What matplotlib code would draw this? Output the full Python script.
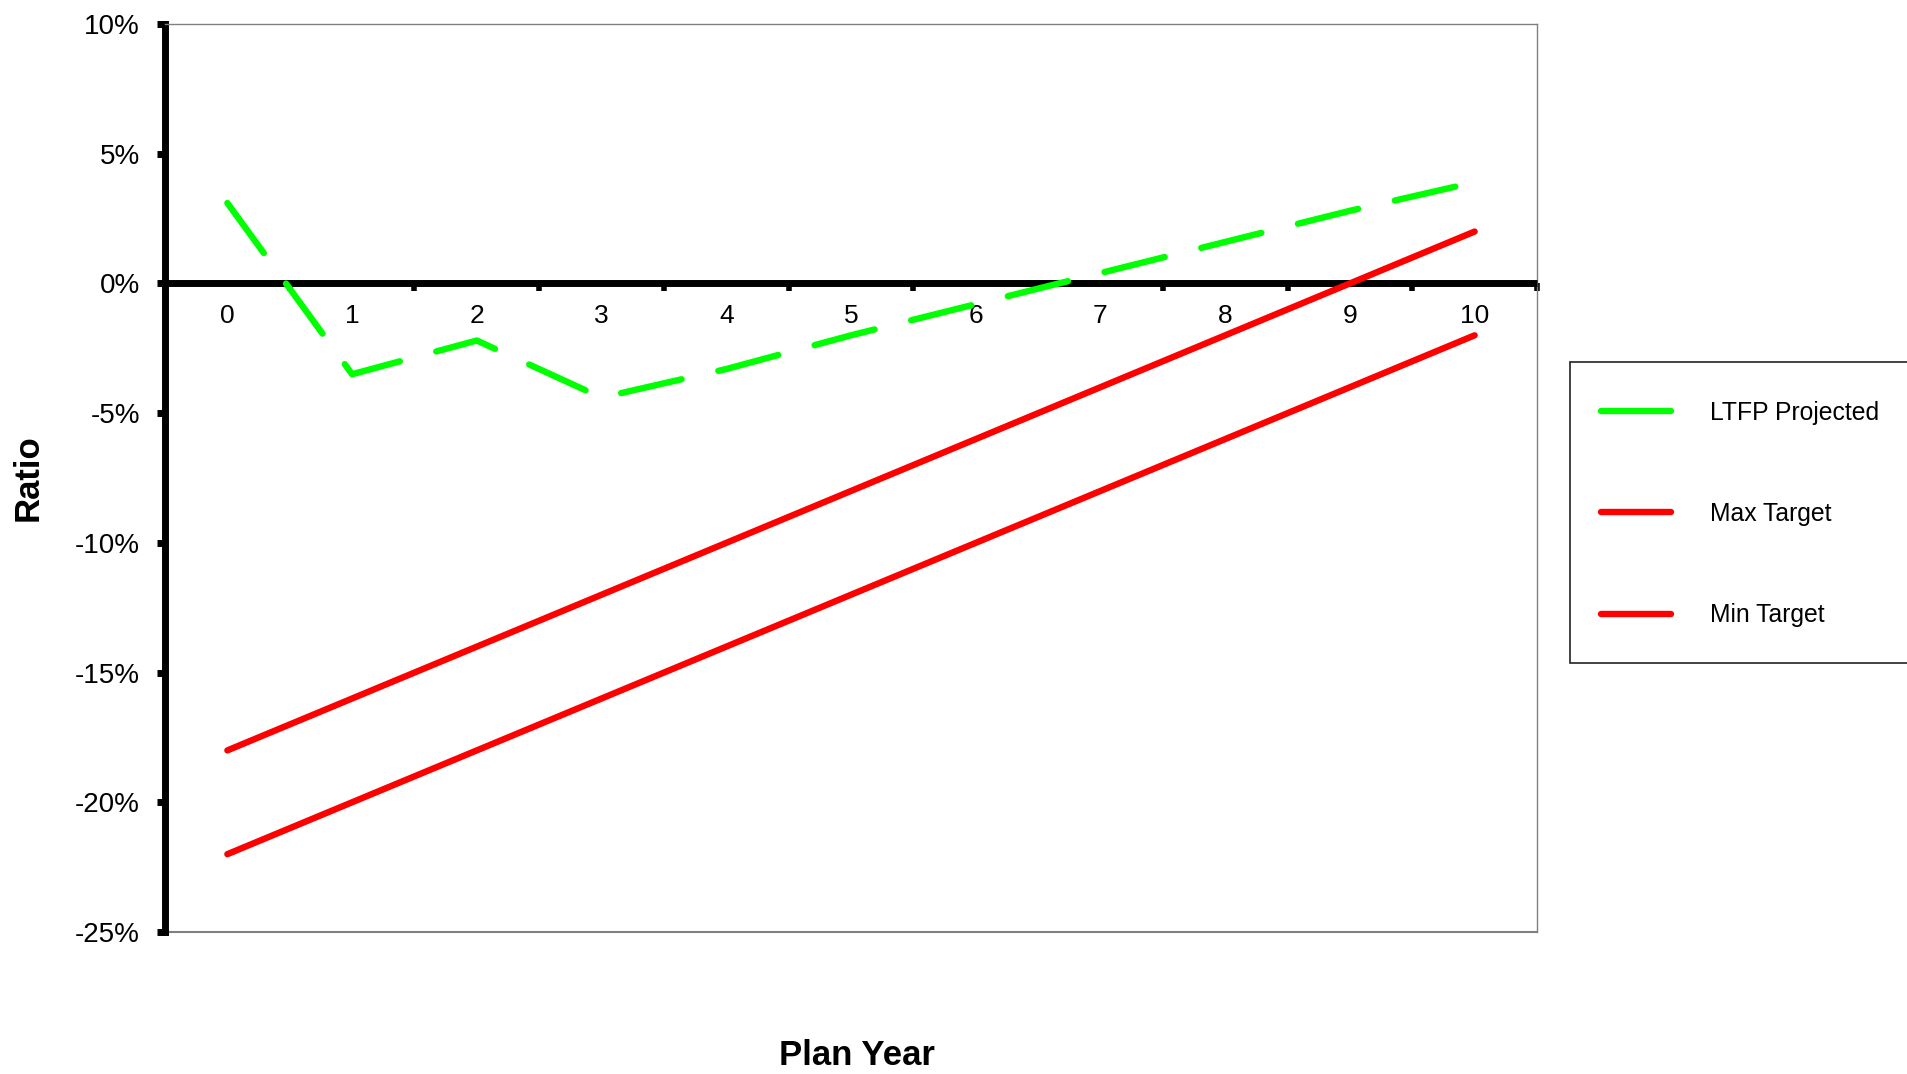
import matplotlib.pyplot as plt
from matplotlib.patches import Rectangle
from matplotlib.lines import Line2D
from matplotlib.ticker import FuncFormatter, MultipleLocator


# Plan year categories and ratio series (in %)
plan_year = [0, 1, 2, 3, 4, 5, 6, 7, 8, 9, 10]
ltfp_projected = [3.1, -3.5, -2.2, -4.4, -3.3, -2.0, -0.8, 0.4, 1.6, 2.8, 3.9]
max_target = [-18, -16, -14, -12, -10, -8, -6, -4, -2, 0, 2]
min_target = [-22, -20, -18, -16, -14, -12, -10, -8, -6, -4, -2]

series_labels = ["LTFP Projected", "Max Target", "Min Target"]
y_ticks = [-25, -20, -15, -10, -5, 0, 5, 10]

GREEN = "#00ff00"
RED = "#ff0000"
BORDER = "#808080"

plt.rcParams["font.family"] = ["Liberation Sans", "DejaVu Sans"]


def main():
    fig = plt.figure(figsize=(19.08, 10.74), dpi=100)
    ax = fig.add_axes([165 / 1908, 1 - 932 / 1074, 1372 / 1908, 908 / 1074])

    ax.plot(plan_year, ltfp_projected, color=GREEN, lw=4.6,
            dashes=(9.7, 5.9), dash_capstyle="round", zorder=3)
    ax.plot(plan_year, max_target, color=RED, lw=4.6,
            solid_capstyle="round", zorder=3)
    ax.plot(plan_year, min_target, color=RED, lw=4.6,
            solid_capstyle="round", zorder=3)

    ax.set_xlim(-0.5, 10.5)
    ax.set_ylim(y_ticks[0], y_ticks[-1])

    # y axis: thick black line on the left, gray frame elsewhere
    ax.yaxis.set_major_locator(MultipleLocator(5))
    ax.yaxis.set_major_formatter(FuncFormatter(lambda v, _: f"{int(v)}%"))
    ax.tick_params(axis="y", direction="out", length=6, width=5,
                   pad=12, labelsize=20, colors="black")

    # x axis sits on the zero line; ticks fall between the categories
    ax.spines["bottom"].set_position(("data", 0))
    ax.spines["bottom"].set_linewidth(5)
    ax.spines["bottom"].set_capstyle("butt")
    ax.spines["left"].set_linewidth(5)
    for side in ("top", "right"):
        ax.spines[side].set_color(BORDER)
        ax.spines[side].set_linewidth(1)
    ax.axhline(y_ticks[0], color=BORDER, lw=1.5, clip_on=False, zorder=2.5)

    ax.set_xticks(plan_year)
    ax.set_xticks([x - 0.5 for x in plan_year] + [10.5], minor=True)
    ax.tick_params(axis="x", which="major", length=0, pad=15, labelsize=19)
    ax.tick_params(axis="x", which="minor", direction="out", length=5.5, width=4)

    ax.grid(axis="y", color="black", lw=0.9)
    for tick in ax.yaxis.get_major_ticks():
        if tick.get_loc() in (y_ticks[0], y_ticks[-1], 0):
            tick.gridline.set_visible(False)

    ax.set_ylabel("Ratio", fontsize=25, fontweight="bold")
    ax.yaxis.set_label_coords(-0.088, 0.5)
    ax.set_xlabel("Plan Year", fontsize=25, fontweight="bold")
    ax.xaxis.set_label_coords(0.504, -0.118)

    # legend box runs off the right edge of the figure
    fig.patches.append(Rectangle((1570 / 1908, 1 - 663 / 1074), 0.3, 301 / 1074,
                                 transform=fig.transFigure, facecolor="white",
                                 edgecolor="#222222", lw=1.2))
    handles = [
        Line2D([], [], color=GREEN, lw=4.6, solid_capstyle="round"),
        Line2D([], [], color=RED, lw=4.6, solid_capstyle="round"),
        Line2D([], [], color=RED, lw=4.6, solid_capstyle="round"),
    ]
    fig.legend(handles, series_labels, loc="upper left",
               bbox_to_anchor=(1601 / 1908, 1 - 401 / 1074),
               frameon=False, fontsize=17.8, borderpad=0, borderaxespad=0,
               handlelength=2.85, handletextpad=1.55, labelspacing=3.12)

    fig.savefig("out.png", dpi=100)
    plt.close(fig)


if __name__ == "__main__":
    main()
